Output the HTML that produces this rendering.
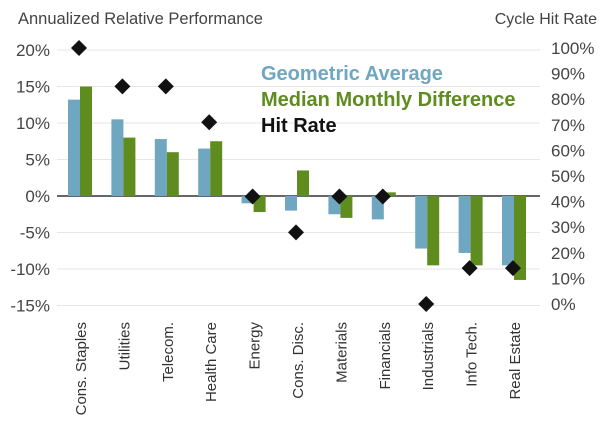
<!DOCTYPE html>
<html><head><meta charset="utf-8"><style>
body{margin:0;background:#fff;}
svg text{font-family:"Liberation Sans",sans-serif;}
</style></head><body>
<svg id="chart" width="600" height="434" viewBox="0 0 600 434">
<text x="18" y="24" font-size="16.5" fill="#444">Annualized Relative Performance</text>
<text x="597" y="24" font-size="16" fill="#444" text-anchor="end">Cycle Hit Rate</text>
<g id="grid"></g><g id="bars"></g><g id="marks"></g><g id="axes"></g>
<g font-weight="bold" font-size="20">
<text x="261" y="80" fill="#6fa6c0">Geometric Average</text>
<text x="261" y="106" fill="#5e8c1f">Median Monthly Difference</text>
<text x="261" y="132" fill="#111">Hit Rate</text>
</g>
</svg>
<script>
const categories=["Cons. Staples","Utilities","Telecom.","Health Care","Energy","Cons. Disc.","Materials","Financials","Industrials","Info Tech.","Real Estate"];
const geometric=[13.2,10.5,7.8,6.5,-1.0,-2.0,-2.5,-3.2,-7.2,-7.8,-9.5];
const median=[15.0,8.0,6.0,7.5,-2.2,3.5,-3.0,0.5,-9.5,-9.5,-11.5];
const hitRate=[100,85,85,71,42,28,42,42,0,14,14];
const leftTicks=[20,15,10,5,0,-5,-10,-15];
const rightTicks=[100,90,80,70,60,50,40,30,20,10,0];
const NS="http://www.w3.org/2000/svg";
const yL=v=>196-v*7.3;
const yR=v=>304-v*2.56;
const xC=i=>81+i*43.4;
function mk(tag,attrs,parent,txt){const e=document.createElementNS(NS,tag);for(const k in attrs)e.setAttribute(k,attrs[k]);if(txt!==undefined)e.textContent=txt;document.getElementById(parent).appendChild(e);return e;}
leftTicks.forEach(t=>{
  const l=mk('line',{x1:57,x2:540,y1:yL(t),y2:yL(t),stroke:t===0?'#333':'#e6e6e6','stroke-width':t===0?1.5:1},'grid');
  
  
  const tx=mk('text',{x:50,y:yL(t)+6,'font-size':17,fill:'#444','text-anchor':'end'},'axes',t+'%');
  
  
});
rightTicks.forEach(t=>{
  const tx=mk('text',{x:551,y:yR(t)+6,'font-size':17,fill:'#444'},'axes',t+'%');
  
  
});
categories.forEach((c,i)=>{
  const x=xC(i);
  const g=geometric[i],m=median[i];
  const b1=mk('rect',{x:x-13,y:Math.min(yL(g),yL(0)),width:12,height:Math.abs(yL(g)-yL(0)),fill:'#6fa6c0'},'bars');
  
  
  const b2=mk('rect',{x:x-1,y:Math.min(yL(m),yL(0)),width:12,height:Math.abs(yL(m)-yL(0)),fill:'#5e8c1f'},'bars');
  
  
  const y=yR(hitRate[i]),dx=x-2;
  const d=mk('polygon',{points:`${dx},${y-8} ${dx+8},${y} ${dx},${y+8} ${dx-8},${y}`,fill:'#111'},'marks');
  
  
  const tx=mk('text',{transform:`translate(${x+5},322) rotate(-90)`,'font-size':15,fill:'#333','text-anchor':'end'},'axes',c);
  
  
});
</script>
</body></html>
